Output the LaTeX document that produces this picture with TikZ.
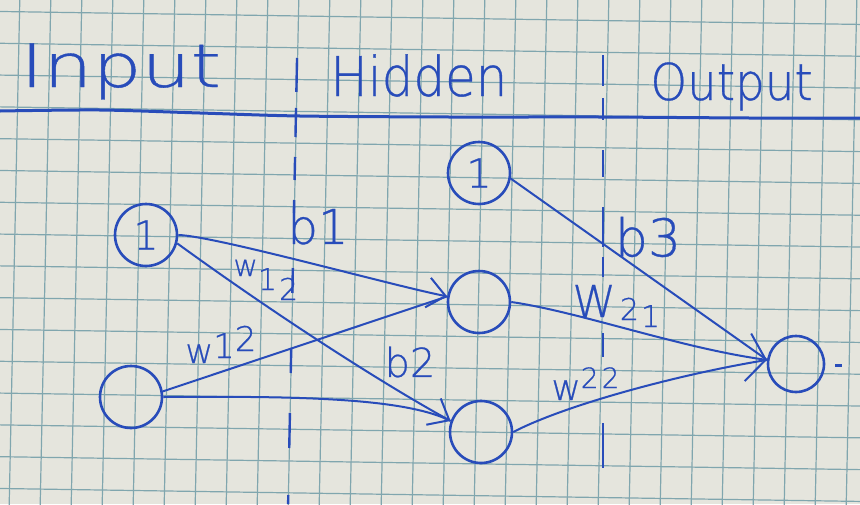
\documentclass[tikz,border=0pt]{standalone}
\usepackage{fontspec}
\newfontfamily\hand{DejaVuSans-ExtraLight.ttf}[FakeBold=0.6]
\usetikzlibrary{arrows.meta}
\definecolor{paper}{RGB}{229,229,221}
\definecolor{gridc}{RGB}{128,166,174}
\definecolor{ink}{RGB}{40,76,186}
\begin{document}
\begin{tikzpicture}[x=0.5pt,y=-0.5pt,
  neuron/.style={circle,draw=ink,line width=1.3pt,minimum size=31pt,inner sep=0pt,text=ink,font=\hand\fontsize{20}{24}\selectfont},
  conn/.style={draw=ink,line width=1pt},
  tipa/.style={-{Straight Barb[length=9pt,width=15pt]}},
  tipb/.style={-{Straight Barb[length=9pt,width=24pt]}},
  lbl/.style={text=ink,inner sep=0pt},
  sep/.style={draw=ink,line width=1.2pt},
  gridline/.style={draw=gridc,line width=0.6pt}
]
\useasboundingbox (0,0) rectangle (860,504);
\fill[paper] (0,0) rectangle (860,504);
% grid paper (cells of about 31 px)
\foreach \k in {-10,...,18} {
  \draw[gridline] ({293.5+31*\k+5.4},-5) -- ({293.5+31*\k-5.4},509);
}
\foreach \k in {-1,...,16} {
  \draw[gridline] (-5,{16+31.8*\k-4.6}) -- (865,{16+31.8*\k+8.5});
}
% header
\node[lbl,anchor=base west,font=\hand\fontsize{30}{36}\selectfont,xscale=1.29] (tin) at (20,87) {Input};
\node[lbl,anchor=base west,font=\hand\fontsize{27.4}{32}\selectfont,xscale=0.91] (thid) at (330,96) {Hidden};
\node[lbl,anchor=base west,font=\hand\fontsize{25.4}{30}\selectfont,xscale=0.92] (tout) at (650,100) {Output};
\draw[ink,line width=1.5pt] plot[smooth] coordinates {(0,111) (100,110) (200,113) (300,116) (450,117) (600,117) (750,118) (860,118)};
% separators
\foreach \a/\b in {58/92,108/137,157/180,200/213,268/293,348/373,413/448,495/504}
  \draw[sep] ({297-0.02*(\a-60)},\a) -- ({297-0.02*(\b-60)},\b);
\foreach \a/\b in {55/86,98/120,150/177,207/247,257/277,333/357,423/468}
  \draw[sep] (603,\a) -- (603,\b);
% neurons
\node[neuron] (ib) at (146,235) {1};
\node[neuron] (in) at (131,397) {};
\node[neuron] (hb) at (479,173) {1};
\node[neuron] (h1) at (479,302) {};
\node[neuron] (h2) at (481,432) {};
\node[neuron,minimum size=28pt] (out) at (796,364) {};
\fill[ink] (835,364) rectangle (842,367);
% connectors
\draw[conn,tipa] (ib.east) .. controls (215,236) and (390,285) .. (h1.170);
\draw[conn] (in.10) -- (h1.170);
\draw[conn,tipa] (ib.-15) .. controls (280,318) and (385,385) .. (h2.160);
\draw[conn] (in.east) .. controls (300,396) and (405,398) .. (h2.160);
\draw[conn] (hb.-10) -- (out.172);
\draw[conn,tipb] (h1.east) .. controls (580,312) and (680,348) .. (out.172);
\draw[conn] (h2.east) .. controls (565,405) and (680,374) .. (out.172);
% labels
\node[lbl,font=\hand\fontsize{24}{28}\selectfont] (lb1) at (318,226) {b1};
\node[lbl,anchor=base west,font=\hand\fontsize{15}{18}\selectfont] (lw12a) at (233,276) {w\raisebox{-7pt}{1}\kern1pt\raisebox{-12pt}{2}};
\node[lbl,anchor=base west,font=\hand\fontsize{17}{20}\selectfont] (lw12b) at (185,363) {w\raisebox{2.5pt}{1}\raisebox{6pt}{2}};
\node[lbl,font=\hand\fontsize{20}{24}\selectfont] (lb2) at (410,362) {b2};
\node[lbl,font=\hand\fontsize{26}{30}\selectfont] (lb3) at (648,237) {b3};
\node[lbl,anchor=base west,font=\hand\fontsize{22}{26}\selectfont] (lw21) at (572,317) {W\kern2pt\fontsize{15}{18}\selectfont\raisebox{-1.5pt}{2}\kern1pt\raisebox{-5pt}{1}};
\node[lbl,anchor=base west,font=\hand\fontsize{18}{22}\selectfont] (lw22) at (551,400) {w\fontsize{14}{17}\selectfont\raisebox{6pt}{2\kern1.5pt 2}};
\end{tikzpicture}
\end{document}
